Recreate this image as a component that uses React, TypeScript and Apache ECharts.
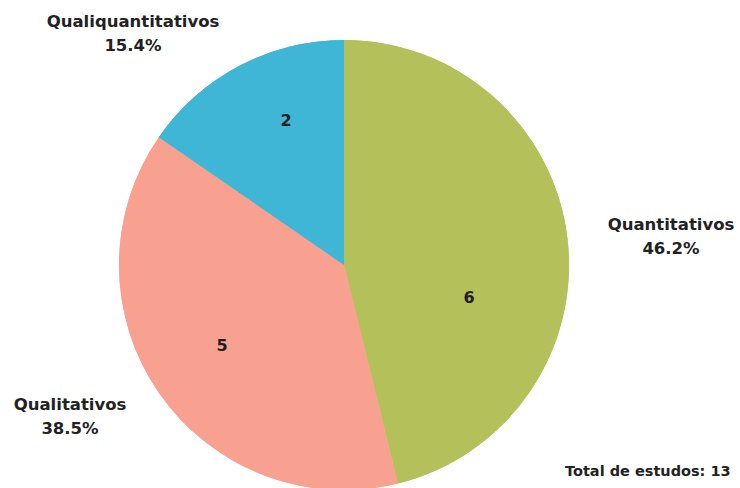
import React, { useEffect, useRef } from "react";
import * as echarts from "echarts";

const categories = ["Quantitativos", "Qualitativos", "Qualiquantitativos"];
const counts = [6, 5, 2];
const colors = ["#b4c05a", "#f9a190", "#40b6d6"];
const totalLabel = "Total de estudos: 13";

const outerPos = [
  [671, 236],
  [70, 416],
  [133, 33],
];
const innerPos = [
  [469, 297],
  [222, 345],
  [286, 120],
];

export default function App() {
  const ref = useRef<HTMLDivElement>(null);
  useEffect(() => {
    if (!ref.current) return;
    const chart = echarts.init(ref.current, undefined, { renderer: "svg" });
    const total = counts.reduce((a, b) => a + b, 0);
    const data = categories.map((name, i) => ({
      name,
      value: counts[i],
      itemStyle: { color: colors[i] },
    }));
    const font = "DejaVu Sans";
    chart.setOption({
      animation: false,
      backgroundColor: "#ffffff",
      series: [
        {
          type: "pie",
          center: [344, 265],
          radius: 225,
          startAngle: 90,
          clockwise: true,
          data,
          itemStyle: { borderWidth: 0 },
          emphasis: { disabled: true },
          labelLine: { show: false },
          label: {
            show: true,
            position: "outside",
            overflow: "none",
            width: 300,
            formatter: (p: any) =>
              p.name + "\n" + ((p.value / total) * 100).toFixed(1) + "%",
            fontFamily: font,
            fontWeight: "bold",
            fontSize: 16.5,
            lineHeight: 24,
            color: "#222222",
            align: "center",
          },
          labelLayout: (p: any) => ({
            x: outerPos[p.dataIndex][0],
            y: outerPos[p.dataIndex][1],
            align: "center",
            verticalAlign: "middle",
            hideOverlap: false,
            moveOverlap: false,
          }),
        },
        {
          type: "pie",
          center: [344, 265],
          radius: 225,
          startAngle: 90,
          clockwise: true,
          silent: true,
          data,
          itemStyle: { borderWidth: 0 },
          emphasis: { disabled: true },
          labelLine: { show: false },
          label: {
            show: true,
            position: "inside",
            formatter: "{c}",
            fontFamily: font,
            fontWeight: "bold",
            fontSize: 16,
            color: "#1e1e1e",
          },
          labelLayout: (p: any) => ({
            x: innerPos[p.dataIndex][0],
            y: innerPos[p.dataIndex][1],
            align: "center",
            verticalAlign: "middle",
            hideOverlap: false,
          }),
        },
      ],
      graphic: [
        {
          type: "text",
          left: 565,
          top: 463,
          style: {
            text: totalLabel,
            fontFamily: font,
            fontWeight: "bold",
            fontSize: 14.5,
            fill: "#222222",
          },
        },
      ],
    });
    return () => chart.dispose();
  }, []);
  return (
    <div
      ref={ref}
      style={{ position: "fixed", left: 0, top: 0, width: 740, height: 488 }}
    />
  );
}
